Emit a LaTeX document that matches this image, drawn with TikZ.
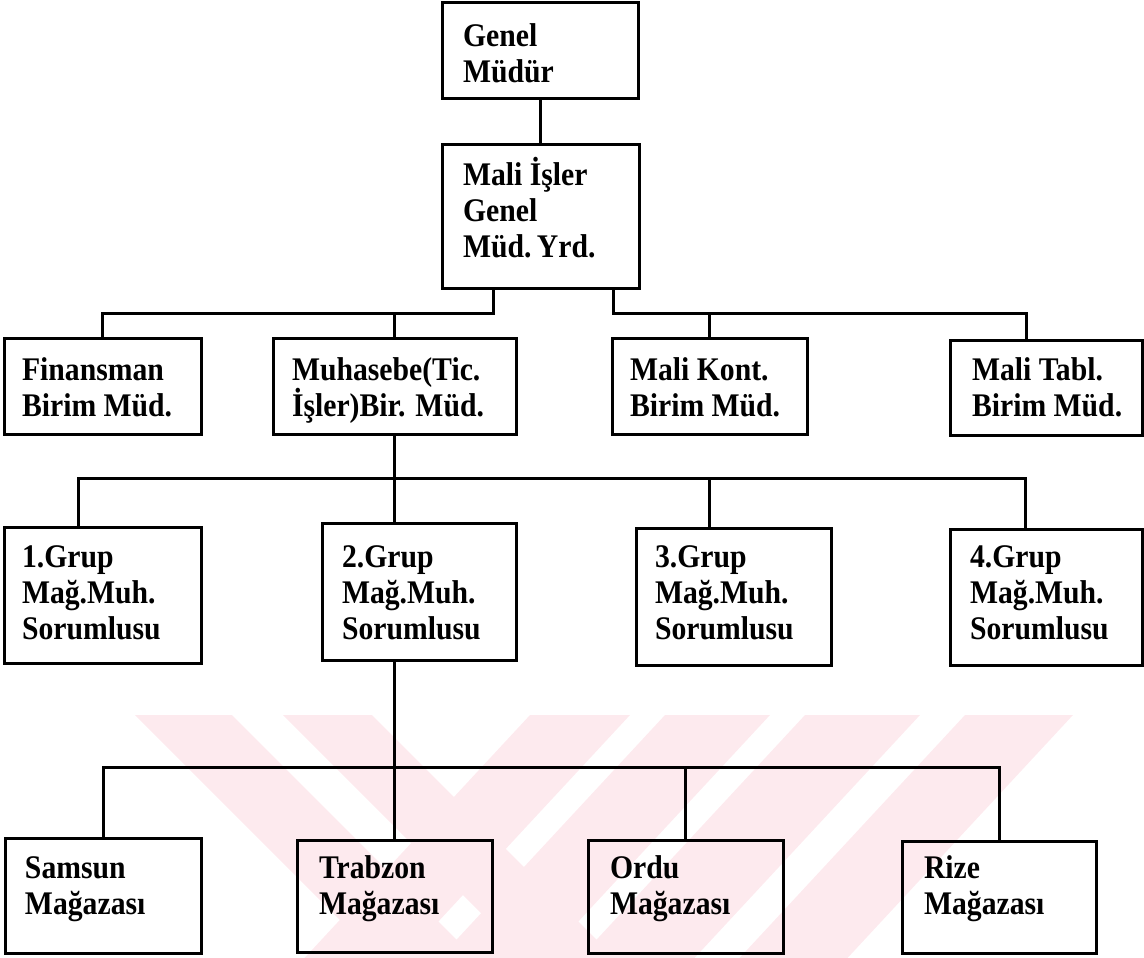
\documentclass[tikz,border=0pt]{standalone}
\usepackage{fontspec}
\setmainfont{Liberation Serif}[FakeStretch=0.9]
\usetikzlibrary{calc}

\definecolor{wmpink}{RGB}{253,234,238}

% one box of the chart: name, left, top, right, bottom (pixel units)
\newcommand\orgbox[5]{%
  \node[orgframe, minimum width={(#4-#2)*0.5pt}, minimum height={(#5-#3)*0.5pt}] (#1) at (#2,#3) {};}

\begin{document}
\begin{tikzpicture}[x=0.5pt, y=-0.5pt,
  orgframe/.style={draw, line width=1.5pt, inner sep=0pt, outer sep=0pt, anchor=north west},
  orgtext/.style={anchor=north west, inner sep=0pt, outer sep=0pt, align=left,
                  font=\fontsize{16.5pt}{18pt}\selectfont\bfseries},
  link/.style={line width=1.5pt, line join=miter}]

\useasboundingbox (0,0) rectangle (1144,957);

% pale striped emblem in the lower part of the page
\begin{scope}
  \clip (0,715) rectangle (1144,957);
  \fill[wmpink] (135,715) -- (232,715) -- ++(250,250) -- ++(-97,0) -- cycle;
  \fill[wmpink] (283,715) -- (372,715) -- ++(250,250) -- ++(-89,0) -- cycle;
  \fill[wmpink] (530,715) -- (630,715) -- ++(-232,250) -- ++(-100,0) -- cycle;
  \fill[wmpink] (665,715) -- (770,715) -- ++(-232,250) -- ++(-105,0) -- cycle;
  \fill[wmpink] (805,715) -- (920,715) -- ++(-232,250) -- ++(-115,0) -- cycle;
  \fill[wmpink] (965,715) -- (1073,715) -- ++(-232,250) -- ++(-108,0) -- cycle;
\end{scope}

% ---- boxes ----
\orgbox{gm}{442}{3}{638}{99}
\orgbox{mi}{442}{145}{639}{288}

\orgbox{fin}{4}{338}{201}{434}
\orgbox{muh}{273}{338}{516}{434}
\orgbox{kont}{612}{338}{807}{434}
\orgbox{tabl}{950}{340}{1142}{435}

\orgbox{ga}{4}{527}{201}{663}
\orgbox{gb}{322}{523}{516}{660}
\orgbox{gc}{636}{528}{831}{665}
\orgbox{gd}{950}{529}{1142}{665}

\orgbox{sam}{5}{838}{201}{953}
\orgbox{trab}{297}{840}{492}{952}
\orgbox{ordu}{588}{840}{783}{953}
\orgbox{rize}{902}{841}{1096}{953}

% ---- texts (first baseline sits 30 units below the anchor) ----
\node[orgtext] (gm-t)   at (463,17)  {\rule{0pt}{15pt}Genel\\Müdür};
\node[orgtext] (mi-t)   at (463,155) {\rule{0pt}{15pt}Mali İşler\\Genel\\Müd.\,Yrd.};

\node[orgtext] (fin-t)  at (22,350)  {\rule{0pt}{15pt}Finansman\\Birim Müd.};
\node[orgtext] (muh-t)  at (292,350) {\rule{0pt}{15pt}Muhasebe(Tic.\\İşler)Bir. Müd.};
\node[orgtext] (kont-t) at (630,350) {\rule{0pt}{15pt}Mali Kont.\\Birim Müd.};
\node[orgtext] (tabl-t) at (972,350) {\rule{0pt}{15pt}Mali Tabl.\\Birim Müd.};

\node[orgtext] (ga-t)   at (22,537)  {\rule{0pt}{15pt}1.Grup\\Mağ.Muh.\\Sorumlusu};
\node[orgtext] (gb-t)   at (342,537) {\rule{0pt}{15pt}2.Grup\\Mağ.Muh.\\Sorumlusu};
\node[orgtext] (gc-t)   at (655,537) {\rule{0pt}{15pt}3.Grup\\Mağ.Muh.\\Sorumlusu};
\node[orgtext] (gd-t)   at (970,537) {\rule{0pt}{15pt}4.Grup\\Mağ.Muh.\\Sorumlusu};

\node[orgtext] (sam-t)  at (25,848)  {\rule{0pt}{15pt}Samsun\\Mağazası};
\node[orgtext] (trab-t) at (319,848) {\rule{0pt}{15pt}Trabzon\\Mağazası};
\node[orgtext] (ordu-t) at (610,848) {\rule{0pt}{15pt}Ordu\\Mağazası};
\node[orgtext] (rize-t) at (924,848) {\rule{0pt}{15pt}Rize\\Mağazası};

% ---- bus junctions ----
\coordinate (b1a) at (493,313);
\coordinate (b1b) at (613,313);
\coordinate (b1r) at (1026,313);
\coordinate (b2l) at (78,478);
\coordinate (b2c) at (709,478);
\coordinate (b2r) at (1025,478);
\coordinate (b3)  at (0,767);

% ---- connectors ----
\draw[link] (gm.south) -- (gm.south |- mi.north);

\draw[link] (b1a |- mi.south) -- (b1a) -| (fin.north);
\draw[link] (muh.north |- b1a) -- (muh.north);
\draw[link] (b1b |- mi.south) -- (b1b) -- (b1r) -- (b1r |- tabl.north);
\draw[link] (kont.north |- b1b) -- (kont.north);

\draw[link] (muh.south) -- (muh.south |- gb.north);
\draw[link] (b2l |- ga.north) -- (b2l) -- (b2r) -- (b2r |- gd.north);
\draw[link] (b2c) -- (b2c |- gc.north);

\draw[link] (trab.north |- gb.south) -- (trab.north);
\draw[link] (sam.north) -- (sam.north |- b3) -- (rize.north |- b3) -- (rize.north);
\draw[link] (ordu.north |- b3) -- (ordu.north);

\end{tikzpicture}
\end{document}
